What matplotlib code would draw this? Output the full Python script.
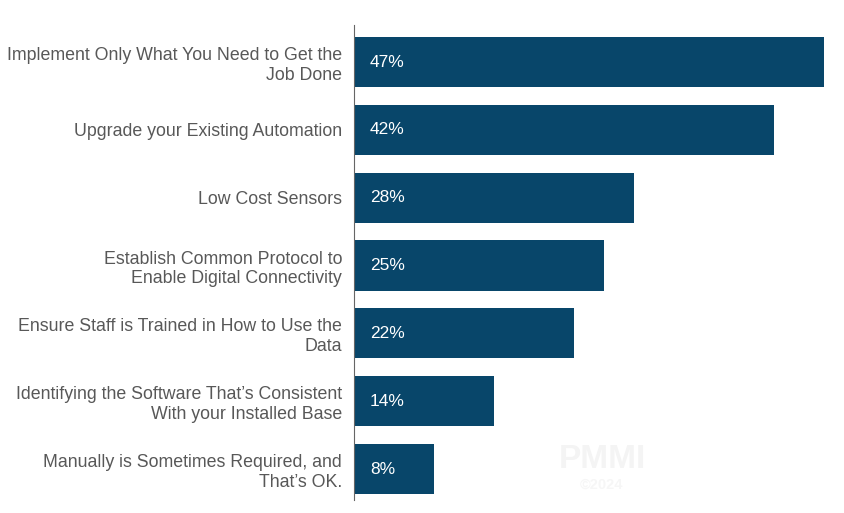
import matplotlib.pyplot as plt

# Survey answers, top to bottom
categories = [
    "Implement Only What You Need to Get the\nJob Done",
    "Upgrade your Existing Automation",
    "Low Cost Sensors",
    "Establish Common Protocol to\nEnable Digital Connectivity",
    "Ensure Staff is Trained in How to Use the\nData",
    "Identifying the Software That\u2019s Consistent\nWith your Installed Base",
    "Manually is Sometimes Required, and\nThat\u2019s OK.",
]
values = [47, 42, 28, 25, 22, 14, 8]

bar_color = "#08466a"
text_color = "#585858"

plt.rcParams['font.family'] = ['Liberation Sans', 'DejaVu Sans']

fig = plt.figure(figsize=(8.45, 5.13), dpi=100)
ax = fig.add_axes([354 / 845, 13 / 513, 491 / 845, 475 / 513])

ypos = list(range(len(values)))
ax.barh(ypos, values, height=0.74, color=bar_color)

for y, v in zip(ypos, values):
    ax.text(1.6, y, f"{v}%", color="white", fontsize=12.5,
            va="center", ha="left")

ax.set_xlim(0, 49.1)
ax.set_ylim(6.457, -0.546)
ax.set_yticks(ypos)
ax.set_yticklabels(categories, fontsize=12.8, color=text_color,
                   linespacing=1.22)
ax.tick_params(axis="y", length=0, pad=8.6)
ax.set_xticks([])

for s in ["top", "right", "bottom"]:
    ax.spines[s].set_visible(False)
ax.spines["left"].set_color("#666666")
ax.spines["left"].set_linewidth(0.8)

# faint watermark
fig.text(602 / 845, 1 - 459 / 513, "PMMI", fontsize=24, fontweight="bold",
         color="#f4f4f4", ha="center", va="center")
fig.text(602 / 845, 1 - 485 / 513, "\u00a92024", fontsize=10.5, fontweight="bold",
         color="#f6f6f6", ha="center", va="center")

fig.savefig("out.png", dpi=100)
